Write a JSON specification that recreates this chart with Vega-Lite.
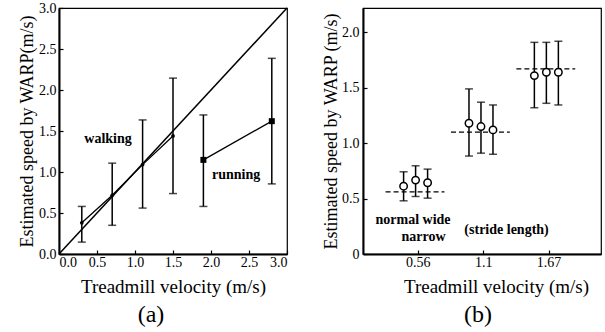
{
  "$schema": "https://vega.github.io/schema/vega-lite/v6.json",
  "background": "white",
  "padding": {"left": 17, "top": 0, "right": 0, "bottom": 0},
  "spacing": 30,
  "datasets": {
    "ideal": [{"tv": 0, "est": 0}, {"tv": 3, "est": 3}],
    "gait": [
      {"gait": "walking", "tv": 0.3, "est": 0.38, "lo": 0.145, "hi": 0.58},
      {"gait": "walking", "tv": 0.7, "est": 0.716, "lo": 0.35, "hi": 1.108},
      {"gait": "walking", "tv": 1.1, "est": 1.09, "lo": 0.56, "hi": 1.635},
      {"gait": "walking", "tv": 1.5, "est": 1.44, "lo": 0.737, "hi": 2.145},
      {"gait": "running", "tv": 1.9, "est": 1.148, "lo": 0.58, "hi": 1.696},
      {"gait": "running", "tv": 2.8, "est": 1.62, "lo": 0.855, "hi": 2.386}
    ],
    "gaitLabels": [
      {"text": "walking", "tv": 0.645, "est": 1.4},
      {"text": "running", "tv": 2.33, "est": 0.96}
    ],
    "stride": [
      {"velocity": "0.56", "stride": "normal", "est": 0.612, "lo": 0.48, "hi": 0.742},
      {"velocity": "0.56", "stride": "narrow", "est": 0.667, "lo": 0.519, "hi": 0.796},
      {"velocity": "0.56", "stride": "wide", "est": 0.643, "lo": 0.504, "hi": 0.766},
      {"velocity": "1.1", "stride": "normal", "est": 1.18, "lo": 0.884, "hi": 1.49},
      {"velocity": "1.1", "stride": "narrow", "est": 1.15, "lo": 0.91, "hi": 1.37},
      {"velocity": "1.1", "stride": "wide", "est": 1.12, "lo": 0.9, "hi": 1.345},
      {"velocity": "1.67", "stride": "normal", "est": 1.61, "lo": 1.32, "hi": 1.91},
      {"velocity": "1.67", "stride": "narrow", "est": 1.64, "lo": 1.36, "hi": 1.91},
      {"velocity": "1.67", "stride": "wide", "est": 1.64, "lo": 1.345, "hi": 1.92}
    ],
    "truth": [
      {"velocity": "0.56", "speed": 0.56},
      {"velocity": "1.1", "speed": 1.1},
      {"velocity": "1.67", "speed": 1.67}
    ],
    "strideLabels": [
      {"text": "normal  wide", "velocity": "0.56", "est": 0.31},
      {"text": "narrow", "velocity": "0.56", "est": 0.155},
      {"text": "(stride length)", "velocity": "1.1", "est": 0.217}
    ]
  },
  "hconcat": [
    {
      "width": 228,
      "height": 246,
      "title": {"text": "(a)", "orient": "bottom", "frame": "group", "fontSize": 24, "font": "Liberation Serif", "fontWeight": "normal", "color": "black", "dx": -22, "offset": 7},
      "encoding": {
        "x": {"type": "quantitative", "scale": {"domain": [0, 3], "nice": false},
              "axis": {"title": "Treadmill velocity (m/s)", "values": [0, 0.5, 1, 1.5, 2, 2.5, 3], "format": ".1f"}},
        "y": {"type": "quantitative", "scale": {"domain": [0, 3], "nice": false},
              "axis": {"title": "Estimated speed by WARP(m/s)", "values": [0, 0.5, 1, 1.5, 2, 2.5, 3], "format": ".1f", "labelPadding": 7, "titlePadding": 2}}
      },
      "layer": [
        {
          "data": {"name": "ideal"},
          "mark": {"type": "line", "color": "black", "strokeWidth": 1.5},
          "encoding": {"x": {"field": "tv", "type": "quantitative"}, "y": {"field": "est", "type": "quantitative"}}
        },
        {
          "data": {"name": "gait"},
          "mark": {"type": "rule", "color": "black", "strokeWidth": 1.5},
          "encoding": {"x": {"field": "tv", "type": "quantitative"}, "y": {"field": "lo", "type": "quantitative"}, "y2": {"field": "hi"}}
        },
        {
          "data": {"name": "gait"},
          "mark": {"type": "tick", "orient": "horizontal", "color": "black", "size": 8, "thickness": 1.5},
          "encoding": {"x": {"field": "tv", "type": "quantitative"}, "y": {"field": "lo", "type": "quantitative"}}
        },
        {
          "data": {"name": "gait"},
          "mark": {"type": "tick", "orient": "horizontal", "color": "black", "size": 8, "thickness": 1.5},
          "encoding": {"x": {"field": "tv", "type": "quantitative"}, "y": {"field": "hi", "type": "quantitative"}}
        },
        {
          "data": {"name": "gait"},
          "mark": {"type": "line", "color": "black", "strokeWidth": 1.3},
          "encoding": {"x": {"field": "tv", "type": "quantitative"}, "y": {"field": "est", "type": "quantitative"}, "detail": {"field": "gait"}}
        },
        {
          "data": {"name": "gait"},
          "mark": {"type": "point", "filled": true, "color": "black", "opacity": 1},
          "encoding": {
            "x": {"field": "tv", "type": "quantitative"},
            "y": {"field": "est", "type": "quantitative"},
            "shape": {"field": "gait", "type": "nominal", "scale": {"domain": ["walking", "running"], "range": ["circle", "square"]}, "legend": null},
            "size": {"field": "gait", "type": "nominal", "scale": {"domain": ["walking", "running"], "range": [14, 36]}, "legend": null}
          }
        },
        {
          "data": {"name": "gaitLabels"},
          "mark": {"type": "text", "font": "Liberation Serif", "fontWeight": "bold", "fontSize": 14, "color": "black"},
          "encoding": {"x": {"field": "tv", "type": "quantitative"}, "y": {"field": "est", "type": "quantitative"}, "text": {"field": "text"}}
        }
      ]
    },
    {
      "width": 238,
      "height": 246,
      "title": {"text": "(b)", "orient": "bottom", "frame": "group", "fontSize": 24, "font": "Liberation Serif", "fontWeight": "normal", "color": "black", "dx": -4, "offset": 7},
      "encoding": {
        "x": {"field": "velocity", "type": "ordinal", "sort": ["0.56", "1.1", "1.67"],
              "scale": {"domain": ["0.56", "1.1", "1.67"], "paddingInner": 0, "paddingOuter": 0.32, "align": 0.54},
              "axis": {"title": "Treadmill velocity (m/s)", "labelAngle": 0, "titleX": 133}},
        "y": {"type": "quantitative", "scale": {"domain": [0, 2.22], "nice": false},
              "axis": {"title": "Estimated speed by WARP (m/s)", "values": [0, 0.5, 1, 1.5, 2], "labelExpr": "datum.value == 0 ? '0' : format(datum.value, '.1f')", "labelPadding": 8, "titlePadding": 1}}
      },
      "layer": [
        {
          "data": {"name": "truth"},
          "mark": {"type": "rule", "color": "black", "strokeWidth": 1.3, "strokeDash": [5, 3]},
          "encoding": {
            "x": {"field": "velocity", "type": "ordinal", "bandPosition": 0},
            "x2": {"field": "velocity", "bandPosition": 0.9},
            "y": {"field": "speed", "type": "quantitative"}
          }
        },
        {
          "data": {"name": "stride"},
          "mark": {"type": "rule", "color": "black", "strokeWidth": 1.5},
          "encoding": {
            "xOffset": {"field": "stride", "type": "nominal", "scale": {"type": "point", "padding": 0, "domain": ["normal", "narrow", "wide"], "range": [18, 42]}},
            "y": {"field": "lo", "type": "quantitative"}, "y2": {"field": "hi"}
          }
        },
        {
          "data": {"name": "stride"},
          "mark": {"type": "tick", "orient": "horizontal", "color": "black", "size": 8, "thickness": 1.5},
          "encoding": {
            "xOffset": {"field": "stride", "type": "nominal", "scale": {"type": "point", "padding": 0, "domain": ["normal", "narrow", "wide"], "range": [18, 42]}},
            "y": {"field": "lo", "type": "quantitative"}
          }
        },
        {
          "data": {"name": "stride"},
          "mark": {"type": "tick", "orient": "horizontal", "color": "black", "size": 8, "thickness": 1.5},
          "encoding": {
            "xOffset": {"field": "stride", "type": "nominal", "scale": {"type": "point", "padding": 0, "domain": ["normal", "narrow", "wide"], "range": [18, 42]}},
            "y": {"field": "hi", "type": "quantitative"}
          }
        },
        {
          "data": {"name": "stride"},
          "mark": {"type": "point", "shape": "circle", "filled": false, "fill": "white", "fillOpacity": 1, "stroke": "black", "strokeWidth": 1.5, "size": 55, "opacity": 1},
          "encoding": {
            "xOffset": {"field": "stride", "type": "nominal", "scale": {"type": "point", "padding": 0, "domain": ["normal", "narrow", "wide"], "range": [18, 42]}},
            "y": {"field": "est", "type": "quantitative"}
          }
        },
        {
          "data": {"name": "strideLabels"},
          "transform": [{"filter": "datum.text == 'normal  wide'"}],
          "mark": {"type": "text", "font": "Liberation Serif", "fontWeight": "bold", "fontSize": 14, "color": "black"},
          "encoding": {"x": {"field": "velocity", "type": "ordinal", "bandPosition": 0.42}, "y": {"field": "est", "type": "quantitative"}, "text": {"field": "text"}}
        },
        {
          "data": {"name": "strideLabels"},
          "transform": [{"filter": "datum.text == 'narrow'"}],
          "mark": {"type": "text", "font": "Liberation Serif", "fontWeight": "bold", "fontSize": 14, "color": "black"},
          "encoding": {"x": {"field": "velocity", "type": "ordinal", "bandPosition": 0.58}, "y": {"field": "est", "type": "quantitative"}, "text": {"field": "text"}}
        },
        {
          "data": {"name": "strideLabels"},
          "transform": [{"filter": "datum.text == '(stride length)'"}],
          "mark": {"type": "text", "font": "Liberation Serif", "fontWeight": "bold", "fontSize": 14, "color": "black"},
          "encoding": {"x": {"field": "velocity", "type": "ordinal", "bandPosition": 0.85}, "y": {"field": "est", "type": "quantitative"}, "text": {"field": "text"}}
        }
      ]
    }
  ],
  "config": {
    "font": "Liberation Serif",
    "view": {"stroke": "black", "strokeWidth": 1.2},
    "axis": {
      "labelFont": "Liberation Serif", "titleFont": "Liberation Serif",
      "labelFontSize": 14, "titleFontSize": 18, "titleFontWeight": "normal",
      "labelColor": "black", "titleColor": "black", "tickColor": "black", "domainColor": "black",
      "domainWidth": 2, "tickSize": -4, "tickWidth": 1.2, "grid": false
    },
    "axisX": {"titlePadding": 8, "titleFontSize": 19, "labelPadding": 5}
  }
}
